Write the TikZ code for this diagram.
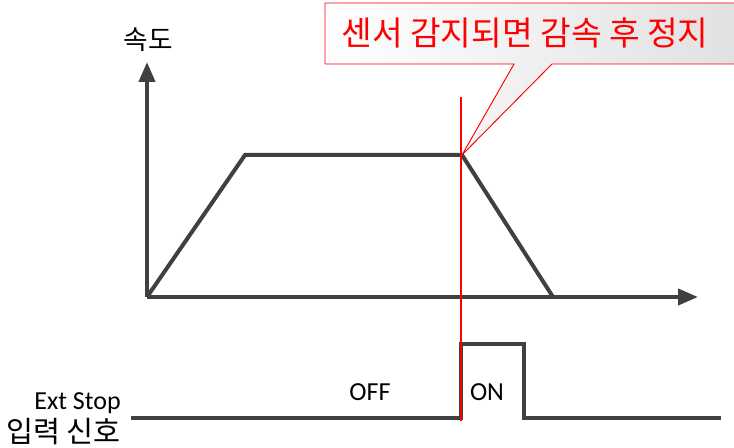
\documentclass[tikz,border=0pt]{standalone}
\usepackage{fontspec}
\setmainfont{Carlito}
\newfontfamily\kr{Noto Sans CJK KR}
\usetikzlibrary{arrows.meta,positioning}

\begin{document}
\begin{tikzpicture}[
  x=0.75pt, y=-0.75pt,
  axis/.style  ={line width=3pt, draw=black!75, -{Triangle[length=15pt,width=12pt]}},
  profile/.style={line width=3pt, draw=black!75, line join=miter},
  signal/.style={line width=3pt, draw=black!75},
  marker/.style={draw=red, line width=0.85pt},
  lbl/.style   ={inner sep=0pt, font=\fontsize{19.5}{22}\selectfont},
  krlbl/.style ={inner sep=0pt, font=\kr\fontsize{21}{25}\selectfont},
  balloon/.style={draw=red, line width=0.7pt, left color=white, right color=black!12},
]
\useasboundingbox (0,0) rectangle (734,448);
\clip (0,0) rectangle (734,448);

% speed profile
\coordinate (O)    at (147,297);
\coordinate (Ytop) at (147,62);
\coordinate (Xend) at (698,297);
\coordinate (A)    at (245,155);
\coordinate (B)    at (462,155);
\coordinate (C)    at (553,297);
\draw[profile] (O) -- (A) -- (B) -- (C);
\draw[axis] (O) -- (Ytop);
\draw[axis] (O) -- (Xend);
\node[krlbl, font=\kr\fontsize{20}{24}\selectfont] (vel) at (148,40) {속도};

% callout
\coordinate (P1) at (514,64);
\coordinate (P2) at (552,64);
\path[balloon] (325,3) -- (745,3) -- (745,64) -- (P2) -- (B) -- (P1) -- (325,64) -- cycle;
\node[inner sep=0pt, text=red, font=\kr\fontsize{25}{30}\selectfont] (msg) at (525,33)
  {센서 감지되면 감속 후 정지};

% ext stop input
\coordinate (S0) at (131,418);
\coordinate (S1) at (461,418);
\coordinate (S2) at (461,344);
\coordinate (S3) at (524,344);
\coordinate (S4) at (524,418);
\coordinate (S5) at (721,418);
\draw[signal] (S0) -- (S1) -- (S2) -- (S3) -- (S4) -- (S5);
\node[lbl] (off) at (370,392) {OFF};
\node[lbl] (on)  at (487,392) {ON};
\node[lbl, anchor=east]   (ext) at (121,403) {Ext Stop};
\node[krlbl, font=\kr\fontsize{22}{26}\selectfont, anchor=east] (inp) at (121,432) {입력 신호};

% sensor moment
\coordinate (R0) at (461,97);
\coordinate (R1) at (461,421);
\draw[marker] (R0) -- (R1);
\end{tikzpicture}
\end{document}
